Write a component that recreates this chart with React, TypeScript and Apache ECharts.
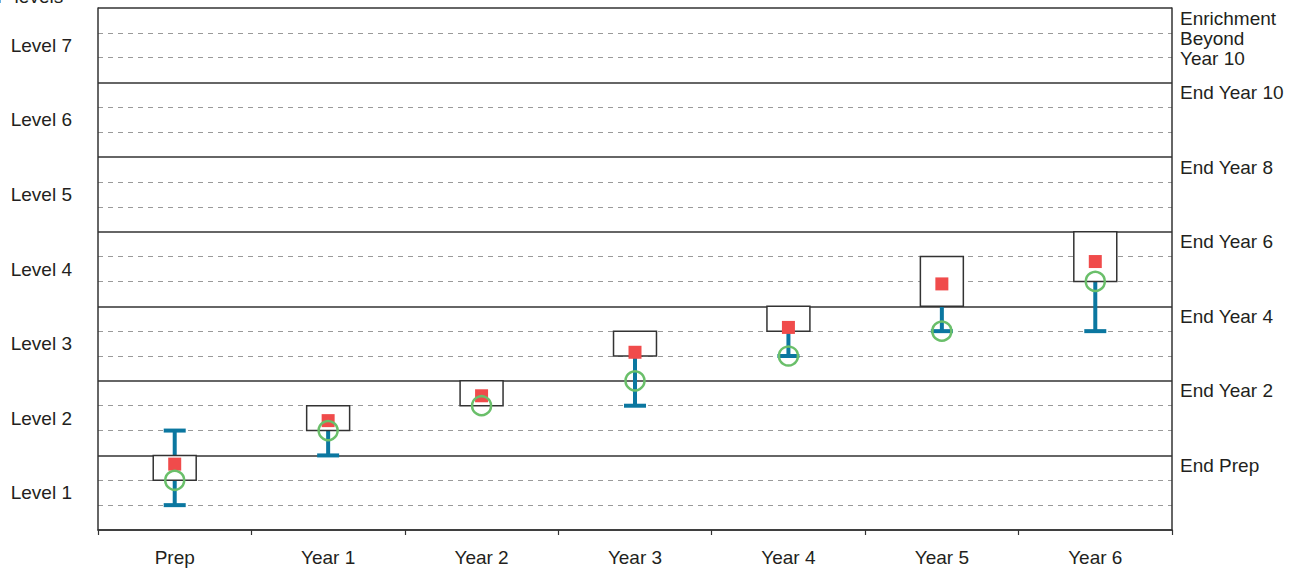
import React, { useEffect, useRef } from "react";
import * as echarts from "echarts";

const categories = ["Prep", "Year 1", "Year 2", "Year 3", "Year 4", "Year 5", "Year 6"];
const levelLabels = ["Level 1", "Level 2", "Level 3", "Level 4", "Level 5", "Level 6", "Level 7"];
const rightLabels: Record<number, string> = {
  3: "End Prep",
  6: "End Year 2",
  9: "End Year 4",
  12: "End Year 6",
  15: "End Year 8",
  18: "End Year 10",
  21: "Enrichment\nBeyond\nYear 10",
};
const boxLow = [2, 4, 5, 7, 8, 9, 10];
const boxHigh = [3, 5, 6, 8, 9, 11, 12];
const redValues = [2.65, 4.4, 5.4, 7.15, 8.15, 9.9, 10.8];
const greenValues = [2.0, 4.0, 5.0, 6.0, 7.0, 8.0, 10.0];
const whiskerLow: (number | null)[] = [1, 3, null, 5, 7, 8, 8];
const whiskerHigh: (number | null)[] = [4, 4.4, null, 7.15, 8.15, 9.9, 10.8];

const FONT = "'Liberation Sans', Arial, Helvetica, sans-serif";
const TEXT = "#231f20";
const BLUE = "#0b77a0";
const RED = "#f04b4b";
const GREEN = "#6abf6a";

export default function App() {
  const ref = useRef<HTMLDivElement>(null);
  useEffect(() => {
    if (!ref.current) return;
    const chart = echarts.init(ref.current, null, { renderer: "svg" });
    const whiskerData = categories.map((_, i) => [i, whiskerLow[i], whiskerHigh[i]]);
    const boxData = categories.map((_, i) => [i, boxLow[i], boxHigh[i]]);
    chart.setOption({
      animation: false,
      textStyle: { fontFamily: FONT },
      grid: { left: 98, right: 132, top: 8, bottom: 42, containLabel: false },
      graphic: [
        {
          type: "text",
          left: -3,
          top: -13,
          style: { text: "P levels", font: `19px ${FONT}`, fill: TEXT },
        },
      ],
      xAxis: {
        type: "category",
        data: categories,
        axisLine: { show: true, lineStyle: { color: "#333", width: 1.5 } },
        axisTick: { show: true, length: 5, lineStyle: { color: "#333", width: 1.2 } },
        axisLabel: { fontSize: 19, color: TEXT, margin: 18, fontFamily: FONT },
        splitLine: { show: false },
      },
      yAxis: [
        {
          type: "value",
          position: "left",
          min: 0,
          max: 21,
          interval: 3,
          axisLine: { show: true, lineStyle: { color: "#333", width: 1.5 } },
          axisTick: { show: false },
          axisLabel: { show: false },
          splitLine: { show: true, lineStyle: { color: "#333", width: 1.5 } },
          minorTick: { show: false, splitNumber: 3 },
          minorSplitLine: { show: true, lineStyle: { color: "#9a9a9a", width: 1, type: [5, 5] } },
        },
        {
          type: "value",
          position: "right",
          min: 0,
          max: 21,
          interval: 3,
          axisLine: { show: true, lineStyle: { color: "#333", width: 1.5 } },
          axisTick: { show: false },
          splitLine: { show: false },
          axisLabel: {
            show: true,
            showMaxLabel: true,
            margin: 8,
            fontSize: 19,
            lineHeight: 20,
            color: TEXT,
            fontFamily: FONT,
            verticalAlign: "top",
            align: "left",
            formatter: (v: number) => rightLabels[v] || "",
          },
        },
        {
          type: "category",
          position: "left",
          data: levelLabels,
          axisLine: { show: false },
          axisTick: { show: false },
          splitLine: { show: false },
          axisLabel: { fontSize: 19, color: TEXT, margin: 26, fontFamily: FONT },
        },
      ],
      series: [
        {
          type: "custom",
          z: 2,
          yAxisIndex: 0,
          data: whiskerData,
          renderItem: (params: any, api: any) => {
            const lo = api.value(1);
            const hi = api.value(2);
            if (lo == null || isNaN(lo) || hi == null || isNaN(hi)) return null;
            const pLo = api.coord([api.value(0), lo]);
            const pHi = api.coord([api.value(0), hi]);
            const half = 11;
            const st = { stroke: BLUE, lineWidth: 4 };
            return {
              type: "group",
              children: [
                { type: "line", shape: { x1: pLo[0], y1: pLo[1], x2: pHi[0], y2: pHi[1] }, style: st },
                { type: "line", shape: { x1: pLo[0] - half, y1: pLo[1], x2: pLo[0] + half, y2: pLo[1] }, style: st },
                { type: "line", shape: { x1: pHi[0] - half, y1: pHi[1], x2: pHi[0] + half, y2: pHi[1] }, style: st },
              ],
            };
          },
        },
        {
          type: "custom",
          z: 3,
          yAxisIndex: 0,
          data: boxData,
          renderItem: (params: any, api: any) => {
            const pLo = api.coord([api.value(0), api.value(1)]);
            const pHi = api.coord([api.value(0), api.value(2)]);
            const w = api.size([1, 0])[0] * 0.28;
            return {
              type: "rect",
              shape: { x: pLo[0] - w / 2, y: pHi[1], width: w, height: pLo[1] - pHi[1] },
              style: { fill: "#fff", stroke: "#333", lineWidth: 1.5 },
            };
          },
        },
        {
          type: "scatter",
          z: 4,
          yAxisIndex: 0,
          symbol: "rect",
          symbolSize: 13,
          itemStyle: { color: RED, opacity: 1 },
          data: categories.map((c, i) => [i, redValues[i]]),
        },
        {
          type: "scatter",
          z: 5,
          yAxisIndex: 0,
          symbol: "circle",
          symbolSize: 19,
          itemStyle: { color: "rgba(0,0,0,0)", borderColor: GREEN, borderWidth: 2.5, opacity: 1 },
          data: categories.map((c, i) => [i, greenValues[i]]),
        },
      ],
    });
    return () => chart.dispose();
  }, []);
  return (
    <div
      ref={ref}
      style={{ position: "fixed", left: 0, top: 0, width: 1304, height: 572, background: "#fff" }}
    />
  );
}
